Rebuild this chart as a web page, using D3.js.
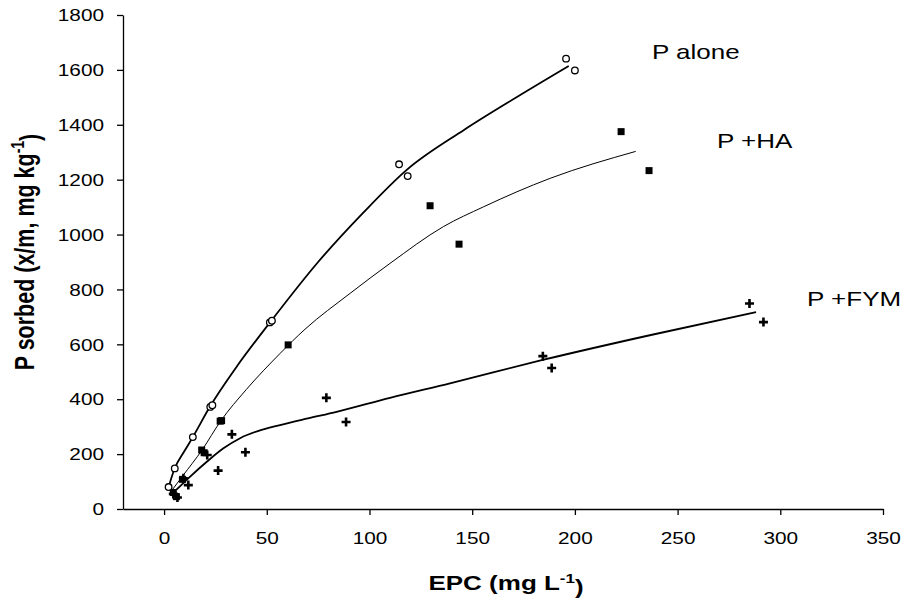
<!DOCTYPE html>
<html>
<head>
<meta charset="utf-8">
<script src="https://cdn.jsdelivr.net/npm/d3@7"></script>
<style>
  html, body { margin: 0; padding: 0; background: #fff; }
  svg { display: block; }
  text { font-family: "Liberation Sans", Arial, sans-serif; fill: #000; }
</style>
</head>
<body>
<svg id="chart" width="906" height="600"></svg>
<script>
// ---------------- data ----------------
const xTicks = [0, 50, 100, 150, 200, 250, 300, 350];
const yTicks = [0, 200, 400, 600, 800, 1000, 1200, 1400, 1600, 1800];

const seriesNames = ["P alone", "P +HA", "P +FYM"];

// observed points [EPC, P sorbed]
const pAlonePoints = [[2.2, 80], [5.2, 148], [14, 262], [22.5, 372], [23.5, 378], [51.5, 680], [52.5, 686],
  [114.4, 1256], [118.6, 1213], [195.7, 1641], [200, 1598]];
const pHAPoints = [[4.5, 60], [6, 45], [9, 108], [18.3, 215], [19.5, 205], [27.3, 320], [28, 322],
  [60.4, 598], [129.5, 1105], [143.6, 965], [222.5, 1375], [236.1, 1233]];
const pFYMPoints = [[4.5, 55], [6.5, 42], [9.4, 112], [11.8, 87], [21, 197], [26.3, 140], [33, 272],
  [39.6, 207], [79, 405], [88.6, 317], [184.4, 557], [188.7, 514], [285, 749], [291.8, 681]];

// fitted curves
const pAloneCurve = [[2, 75], [5, 145], [10, 212], [14, 262], [22.5, 375], [35, 515], [52, 684], [75, 900],
  [97, 1080], [118, 1235], [146, 1381], [172, 1502], [197, 1614]];
const pHACurve = [[4, 70], [9, 120], [18.5, 215], [27.5, 320], [40, 435], [56.5, 567], [68.6, 655],
  [90.6, 786], [110, 895], [136, 1029], [155.5, 1101], [188, 1205], [229.6, 1303]];
const pFYMCurve = [[6, 70], [12.7, 118], [20.8, 172], [28.9, 221], [37, 258], [46, 285], [56.5, 306],
  [70, 330], [84, 354], [110, 405], [139.2, 458], [184.3, 543], [237, 634], [288.2, 717]];

// ---------------- chart ----------------
const svg = d3.select("#chart");
const SX = 1.3; // horizontal stretch of the original text

const x = d3.scaleLinear().domain([-20, 350]).range([123, 883]);
const y = d3.scaleLinear().domain([0, 1800]).range([509, 15]);

// axes
const xAxis = svg.append("g")
  .attr("transform", `translate(0,${y(0)})`)
  .call(d3.axisBottom(x).tickValues(xTicks).tickSize(6).tickSizeOuter(0).tickFormat(d => d));
const yAxis = svg.append("g")
  .attr("transform", `translate(${x(-20)},0)`)
  .call(d3.axisLeft(y).tickValues(yTicks).tickSize(6).tickSizeOuter(0).tickFormat(d => d));

[xAxis, yAxis].forEach(g => {
  g.select(".domain").attr("stroke", "#000").attr("stroke-width", 1.3);
  g.selectAll(".tick line").attr("stroke", "#000").attr("stroke-width", 1.3);
  g.selectAll(".tick text").attr("font-size", 16).attr("font-family", "Liberation Sans, Arial, sans-serif")
    .attr("fill", "#000");
});
xAxis.selectAll(".tick text").attr("y", 35).attr("dy", 0).attr("transform", `scale(${SX},1)`);
yAxis.selectAll(".tick text").attr("x", -19 / SX).attr("dy", "0.36em").attr("transform", `scale(${SX},1)`);

// axis titles
const xt = svg.append("text")
  .attr("transform", `translate(${(x(-20) + x(350)) / 2 + 3},590) scale(${SX},1)`)
  .attr("text-anchor", "middle").attr("font-size", 20).attr("font-weight", "bold");
xt.append("tspan").text("EPC (mg L");
xt.append("tspan").attr("dy", "-0.55em").attr("font-size", 13).text("-1");
xt.append("tspan").attr("dy", "0.55em").text(")");

const yt = svg.append("text")
  .attr("transform", `translate(34,252) scale(${SX},1) rotate(-90)`)
  .attr("text-anchor", "middle").attr("font-size", 21.5).attr("font-weight", "bold");
yt.append("tspan").text("P sorbed (x/m, mg kg");
yt.append("tspan").attr("dy", "-0.55em").attr("font-size", 14).text("-1");
yt.append("tspan").attr("dy", "0.55em").text(")");

// curves
const line = d3.line().x(d => x(d[0])).y(d => y(d[1])).curve(d3.curveMonotoneX);
svg.append("path").datum(pAloneCurve).attr("d", line).attr("fill", "none").attr("stroke", "#000").attr("stroke-width", 1.8);
svg.append("path").datum(pHACurve).attr("d", line).attr("fill", "none").attr("stroke", "#000").attr("stroke-width", 1);
svg.append("path").datum(pFYMCurve).attr("d", line).attr("fill", "none").attr("stroke", "#000").attr("stroke-width", 1.8);

// markers
svg.append("g").selectAll("path").data(pFYMPoints).join("path")
  .attr("transform", d => `translate(${x(d[0])},${y(d[1])})`)
  .attr("d", "M-4.5,0H4.5M0,-4.5V4.5").attr("stroke", "#000").attr("stroke-width", 2.6).attr("fill", "none");
svg.append("g").selectAll("rect").data(pHAPoints).join("rect")
  .attr("x", d => x(d[0]) - 3.5).attr("y", d => y(d[1]) - 3.5)
  .attr("width", 7).attr("height", 7).attr("fill", "#000");
svg.append("g").selectAll("circle").data(pAlonePoints).join("circle")
  .attr("cx", d => x(d[0])).attr("cy", d => y(d[1])).attr("r", 3.3)
  .attr("fill", "#fff").attr("stroke", "#000").attr("stroke-width", 1.3);

// series labels
const labelPos = [[652, 59], [717, 148], [807, 306]];
svg.append("g").selectAll("text").data(seriesNames).join("text")
  .attr("transform", (d, i) => `translate(${labelPos[i][0]},${labelPos[i][1]}) scale(${SX},1)`)
  .attr("font-size", 20).text(d => d);
</script>
</body>
</html>
